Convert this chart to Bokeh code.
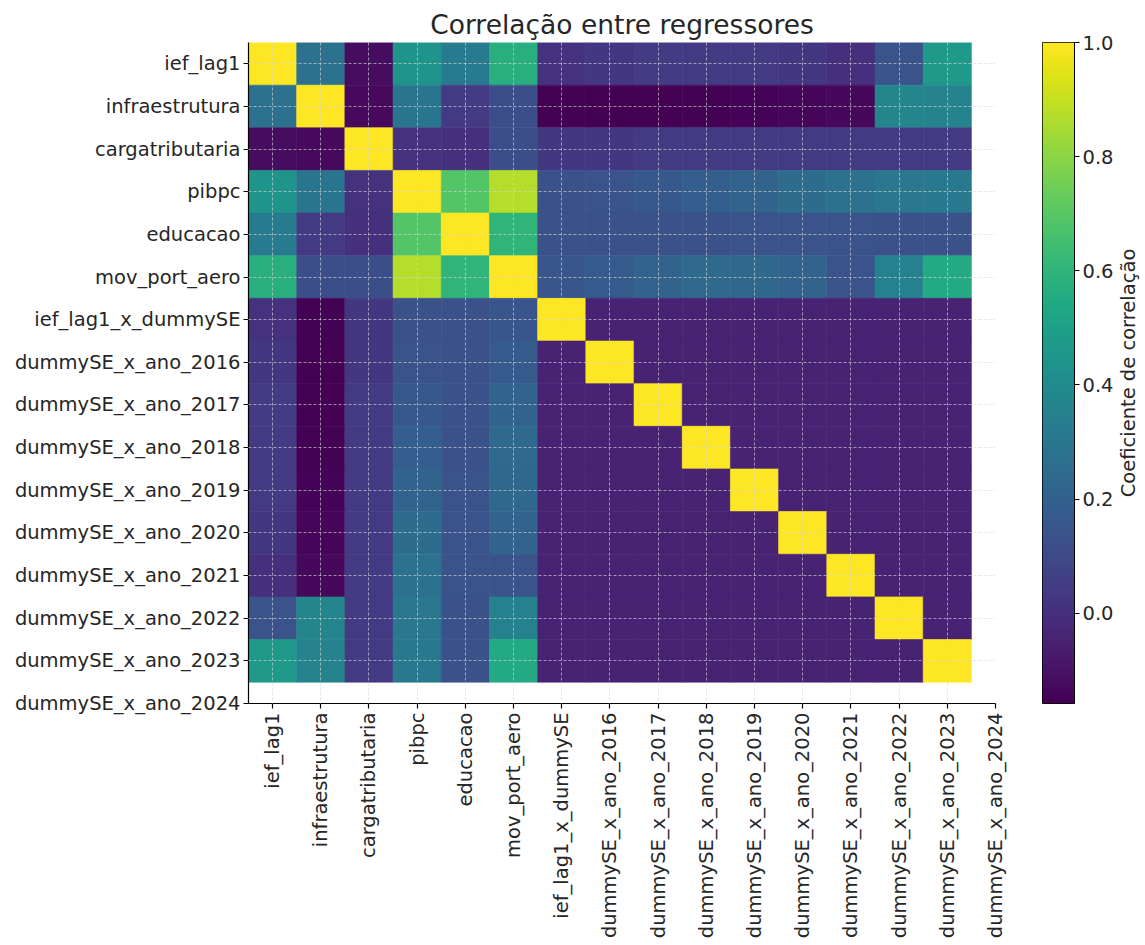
import math
import numpy as np
from bokeh.plotting import figure
from bokeh.models import ColumnDataSource, LinearColorMapper, FixedTicker, Range1d, PrintfTickFormatter
from bokeh.transform import transform
from bokeh.palettes import Viridis256
from bokeh.layouts import row
from bokeh.embed import file_html
from bokeh.resources import INLINE
from bokeh.core.properties import value

# ---------------- data ----------------
tick_labels = [
    "ief_lag1", "infraestrutura", "cargatributaria", "pibpc", "educacao",
    "mov_port_aero", "ief_lag1_x_dummySE", "dummySE_x_ano_2016",
    "dummySE_x_ano_2017", "dummySE_x_ano_2018", "dummySE_x_ano_2019",
    "dummySE_x_ano_2020", "dummySE_x_ano_2021", "dummySE_x_ano_2022",
    "dummySE_x_ano_2023", "dummySE_x_ano_2024",
]

# correlation matrix (15 x 15), rows/cols = tick_labels[:15]
corr = [
    [1.00, 0.28, -0.12, 0.44, 0.32, 0.57, 0.01, 0.03, 0.05, 0.04, 0.04, 0.03, 0.00, 0.14, 0.47],
    [0.28, 1.00, -0.13, 0.29, 0.04, 0.12, -0.15, -0.158, -0.155, -0.15, -0.145, -0.14, -0.135, 0.37, 0.36],
    [-0.12, -0.13, 1.00, 0.01, 0.00, 0.12, 0.03, 0.03, 0.04, 0.04, 0.04, 0.04, 0.04, 0.04, 0.04],
    [0.44, 0.29, 0.01, 1.00, 0.69, 0.87, 0.13, 0.14, 0.16, 0.19, 0.21, 0.25, 0.28, 0.30, 0.31],
    [0.32, 0.04, 0.00, 0.69, 1.00, 0.60, 0.13, 0.13, 0.13, 0.13, 0.14, 0.14, 0.14, 0.13, 0.13],
    [0.57, 0.12, 0.12, 0.87, 0.60, 1.00, 0.15, 0.17, 0.21, 0.24, 0.23, 0.21, 0.14, 0.35, 0.55],
    [0.01, -0.15, 0.03, 0.13, 0.13, 0.15, 1.00, -0.045, -0.045, -0.045, -0.045, -0.045, -0.045, -0.045, -0.045],
    [0.03, -0.158, 0.03, 0.14, 0.13, 0.17, -0.045, 1.00, -0.045, -0.045, -0.045, -0.045, -0.045, -0.045, -0.045],
    [0.05, -0.155, 0.04, 0.16, 0.13, 0.21, -0.045, -0.045, 1.00, -0.045, -0.045, -0.045, -0.045, -0.045, -0.045],
    [0.04, -0.15, 0.04, 0.19, 0.13, 0.24, -0.045, -0.045, -0.045, 1.00, -0.045, -0.045, -0.045, -0.045, -0.045],
    [0.04, -0.145, 0.04, 0.21, 0.14, 0.23, -0.045, -0.045, -0.045, -0.045, 1.00, -0.045, -0.045, -0.045, -0.045],
    [0.03, -0.14, 0.04, 0.25, 0.14, 0.21, -0.045, -0.045, -0.045, -0.045, -0.045, 1.00, -0.045, -0.045, -0.045],
    [0.00, -0.135, 0.04, 0.28, 0.14, 0.14, -0.045, -0.045, -0.045, -0.045, -0.045, -0.045, 1.00, -0.045, -0.045],
    [0.14, 0.37, 0.04, 0.30, 0.13, 0.35, -0.045, -0.045, -0.045, -0.045, -0.045, -0.045, -0.045, 1.00, -0.045],
    [0.47, 0.36, 0.04, 0.31, 0.13, 0.55, -0.045, -0.045, -0.045, -0.045, -0.045, -0.045, -0.045, -0.045, 1.00],
]

colorbar_ticks = [0.0, 0.2, 0.4, 0.6, 0.8, 1.0]
title_text = "Correlação entre regressores"
cbar_label = "Coeficiente de correlação"

# ---------------- build ----------------
vmin = min(min(r) for r in corr)
vmax = max(max(r) for r in corr)

xs, ys, vs = [], [], []
for i, r in enumerate(corr):
    for j, v in enumerate(r):
        xs.append(j)
        ys.append(i)
        vs.append(v)
src = ColumnDataSource(dict(x=xs, y=ys, v=vs))

mapper = LinearColorMapper(palette=Viridis256, low=vmin, high=vmax)

FONT = "DejaVu Sans"
TXT = "#262626"
LBL = "19.5px"
TITLE_SIZE = "26.5px"
TITLE_STANDOFF = 6
TOP = 42
FH = 661

n_ticks = len(tick_labels)

p = figure(frame_width=747, frame_height=FH,
           x_range=Range1d(-0.5, n_ticks - 1), y_range=Range1d(n_ticks - 1, -0.5),
           output_backend="svg", toolbar_location=None,
           min_border_left=248, min_border_right=13, min_border_top=TOP,
           min_border_bottom=2, title=title_text)
p.title.align = "center"
p.title.text_font = FONT
p.title.text_font_size = TITLE_SIZE
p.title.text_font_style = "normal"
p.title.text_color = TXT
p.title.standoff = TITLE_STANDOFF
p.outline_line_color = None
p.background_fill_color = "white"

p.rect(x="x", y="y", width=1, height=1, source=src,
       fill_color=transform("v", mapper), line_color=transform("v", mapper), line_width=0.6)

ticks = list(range(n_ticks))
overrides = {i: lab for i, lab in enumerate(tick_labels)}
for ax in (p.xaxis[0], p.yaxis[0]):
    ax.ticker = FixedTicker(ticks=ticks)
    ax.major_label_overrides = overrides
    ax.major_label_text_font = FONT
    ax.major_label_text_font_size = LBL
    ax.major_label_text_color = TXT
    ax.axis_line_color = "black"
    ax.axis_line_width = 1.2
    ax.major_tick_line_color = "black"
    ax.major_tick_line_width = 1.2
    ax.major_tick_out = 5
    ax.major_tick_in = 0
    ax.minor_tick_line_color = None
p.xaxis.major_label_orientation = math.pi / 2
p.xaxis.major_label_standoff = 4
p.yaxis.major_label_standoff = 3

for g in (p.xgrid[0], p.ygrid[0]):
    g.ticker = FixedTicker(ticks=ticks)
    g.grid_line_color = "#d8d8d8"
    g.grid_line_alpha = 0.8
    g.grid_line_dash = "3 2"
    g.grid_line_width = 0.8
    g.level = "annotation"

# ---------------- colour bar ----------------
cb = figure(frame_width=32, frame_height=FH,
            x_range=Range1d(0, 1), y_range=Range1d(vmin, vmax),
            output_backend="svg", toolbar_location=None, y_axis_location="right",
            min_border_left=34, min_border_right=2, min_border_top=TOP,
            min_border_bottom=2, title=" ")
cb.title.text_font = FONT
cb.title.text_font_size = TITLE_SIZE
cb.title.standoff = TITLE_STANDOFF
cb.xaxis.visible = False
cb.xgrid.visible = False
cb.ygrid.visible = False
grad = np.linspace(vmin, vmax, 256).reshape(256, 1)
cb.image(image=[grad], x=0, y=vmin, dw=1, dh=vmax - vmin, color_mapper=mapper)
cb.outline_line_color = "black"
cb.outline_line_width = 1
cb.outline_line_alpha = 1
ya = cb.yaxis[0]
ya.ticker = FixedTicker(ticks=colorbar_ticks)
ya.formatter = PrintfTickFormatter(format="%.1f")
ya.major_label_text_font = FONT
ya.major_label_text_font_size = LBL
ya.major_label_text_color = TXT
ya.axis_line_color = "black"
ya.major_tick_line_color = "black"
ya.major_tick_out = 5
ya.major_tick_in = 0
ya.minor_tick_line_color = None
ya.major_label_standoff = 3

# ---------------- colour bar label ----------------
lf = figure(frame_width=24, frame_height=FH,
            x_range=Range1d(0, 1), y_range=Range1d(0, 1),
            output_backend="svg", toolbar_location=None,
            min_border_left=0, min_border_right=0, min_border_top=TOP,
            min_border_bottom=2, title=" ")
lf.title.text_font = FONT
lf.title.text_font_size = TITLE_SIZE
lf.title.standoff = TITLE_STANDOFF
lf.axis.visible = False
lf.grid.visible = False
lf.outline_line_color = None
lf.text(x=[0.5], y=[0.5], text=[cbar_label], angle=math.pi / 2,
        text_align="center", text_baseline="middle",
        text_font=value(FONT), text_font_size=LBL, text_color=TXT)

layout = row(p, cb, lf)

open("out.html", "w").write(file_html(layout, INLINE))
